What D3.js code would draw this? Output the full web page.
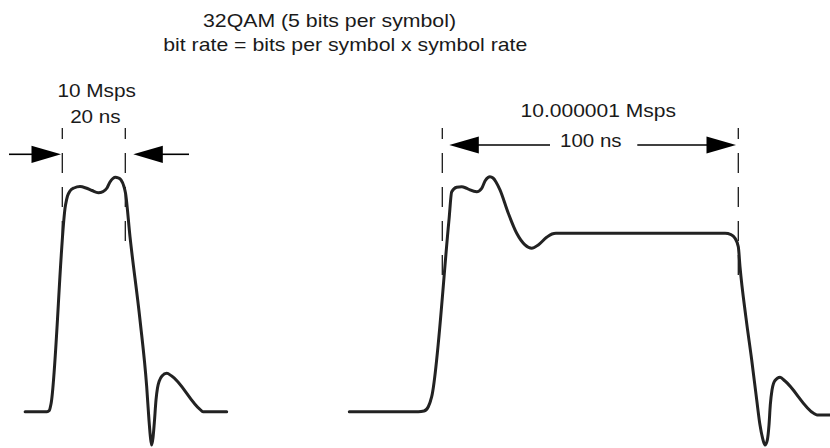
<!DOCTYPE html>
<html>
<head>
<meta charset="utf-8">
<script src="https://cdn.jsdelivr.net/npm/d3@7/dist/d3.min.js"></script>
<style>
  html, body { margin: 0; padding: 0; background: #fff; }
  svg { display: block; }
  text { font-family: "Liberation Sans", Arial, sans-serif; fill: #1a1a1a; }
</style>
</head>
<body>
<svg id="chart" width="830" height="448"></svg>
<script>
// ---- Data (time in ns relative to symbol start, amplitude normalised: 0 = baseline, 1 = settled level)
const titleLines = ["32QAM (5 bits per symbol)", "bit rate = bits per symbol x symbol rate"];

const shortSymbolLabels = ["10 Msps", "20 ns"];
const shortSymbolPeriod = 20;
const shortTime = [-11.8, -4.86, -4.13, -3.59, 1.02, 1.65, 2.44, 3.71, 5.62, 7.52, 9.43, 11.43, 12.92, 14.19, 15.14, 16.10, 16.89, 17.68, 18.63, 19.59, 20.06, 21.49, 24.67, 26.79, 27.52, 28.0, 28.38, 28.79, 29.21, 29.75, 30.22, 30.79, 31.65, 33.14, 34.73, 43.71, 44.67, 52.19];
const shortAmp  = [0, 0, 0.007, 0.043, 1.159, 1.209, 1.237, 1.254, 1.262, 1.254, 1.240, 1.228, 1.234, 1.254, 1.288, 1.308, 1.314, 1.311, 1.299, 1.261, 1.226, 0.981, 0.514, 0.140, -0.047, -0.147, -0.187, -0.147, -0.063, 0.066, 0.133, 0.172, 0.200, 0.215, 0.200, 0.013, 0, 0];

const longSymbolLabels = ["10.000001 Msps", "100 ns"];
const longSymbolPeriod = 100;
const longTime = [-31.42, -8.11, -6.18, -4.73, -3.58, 2.26, 3.18, 4.86, 6.55, 8.01, 9.36, 11.62, 13.31, 14.43, 15.44, 16.11, 17.13, 18.14, 19.49, 22.30, 25.14, 27.94, 30.20, 32.43, 35.27, 37.06, 38.41, 95.51, 97.53, 98.89, 100.0, 100.57, 102.6, 104.53, 106.22, 107.33, 108.18, 109.02, 109.80, 110.37, 110.81, 111.39, 112.40, 114.09, 115.78, 125.57, 126.59, 130.98];
const longAmp  = [0, 0, 0.004, 0.028, 0.084, 1.075, 1.233, 1.258, 1.261, 1.254, 1.243, 1.233, 1.252, 1.293, 1.313, 1.317, 1.310, 1.288, 1.243, 1.112, 1.0, 0.935, 0.916, 0.935, 0.978, 0.996, 1.0, 1.0, 0.993, 0.972, 0.925, 0.813, 0.526, 0.290, 0.066, -0.075, -0.147, -0.187, -0.159, -0.075, 0.038, 0.122, 0.175, 0.193, 0.172, -0.010, -0.018, -0.018];

// ---- Layout
const svg = d3.select("#chart");
const ink = "#1a1a1a";

const y = d3.scaleLinear().domain([0, 1]).range([411.7, 233.3]);
const xShort = d3.scaleLinear().domain([0, shortSymbolPeriod]).range([62.3, 125.3]);
const xLong  = d3.scaleLinear().domain([0, longSymbolPeriod]).range([442.3, 738.3]);

// Title
const title = [
  {t: titleLines[0], x: 329.5, y: 27, w: 253},
  {t: titleLines[1], x: 345.3, y: 51, w: 364}
];
svg.selectAll("text.title").data(title).join("text")
  .attr("class", "title")
  .attr("x", d => d.x - d.w / 2).attr("y", d => d.y)
  .attr("font-size", 18.5)
  .attr("textLength", d => d.w).attr("lengthAdjust", "spacingAndGlyphs")
  .text(d => d.t);

function waveform(xs, times, amps) {
  const pts = times.map((t, i) => [xs(t), y(amps[i])]);
  const line = d3.line().curve(d3.curveMonotoneX);
  svg.append("path")
    .attr("d", line(pts))
    .attr("fill", "none")
    .attr("stroke", "#222")
    .attr("stroke-width", 3)
    .attr("stroke-linejoin", "round")
    .attr("stroke-linecap", "round");
}

function dashed(x, y0, y1) {
  svg.append("line")
    .attr("x1", x).attr("x2", x).attr("y1", y0).attr("y2", y1)
    .attr("stroke", ink).attr("stroke-width", 1.3)
    .attr("stroke-dasharray", "20,14").attr("stroke-dashoffset", 9);
}

function arrowHead(tipX, yy, dir) { // dir = +1 points right, -1 points left
  const len = 29.5, half = 8.6;
  svg.append("path")
    .attr("d", `M${tipX},${yy} L${tipX - dir * len},${yy - half} L${tipX - dir * len},${yy + half} Z`)
    .attr("fill", "#000");
}
function hline(x0, x1, yy) {
  svg.append("line").attr("x1", x0).attr("x2", x1).attr("y1", yy).attr("y2", yy)
    .attr("stroke", "#000").attr("stroke-width", 1.6);
}
function label(txt, cx, yy, w) {
  svg.append("text").attr("x", cx - w / 2).attr("y", yy)
    .attr("font-size", 18.5)
    .attr("textLength", w).attr("lengthAdjust", "spacingAndGlyphs")
    .text(txt);
}

// Short symbol (left)
dashed(xShort(0), 128, 242);
dashed(xShort(shortSymbolPeriod), 128, 242);
waveform(xShort, shortTime, shortAmp);
hline(9, 32, 154.3);
arrowHead(61, 154.3, 1);
arrowHead(133.3, 154.3, -1);
hline(162, 189, 154.3);
label(shortSymbolLabels[0], 96.7, 96.7, 78.5);
label(shortSymbolLabels[1], 95.4, 123.3, 50.5);

// Long symbol (right)
dashed(xLong(0), 128, 276);
dashed(xLong(longSymbolPeriod), 128, 276);
waveform(xLong, longTime, longAmp);
arrowHead(449.3, 145, -1);
hline(477, 550, 145);
hline(637.3, 707, 145);
arrowHead(736, 145, 1);
label(longSymbolLabels[0], 598.3, 116.7, 155.5);
label(longSymbolLabels[1], 590.8, 146.7, 61.5);
</script>
</body>
</html>
